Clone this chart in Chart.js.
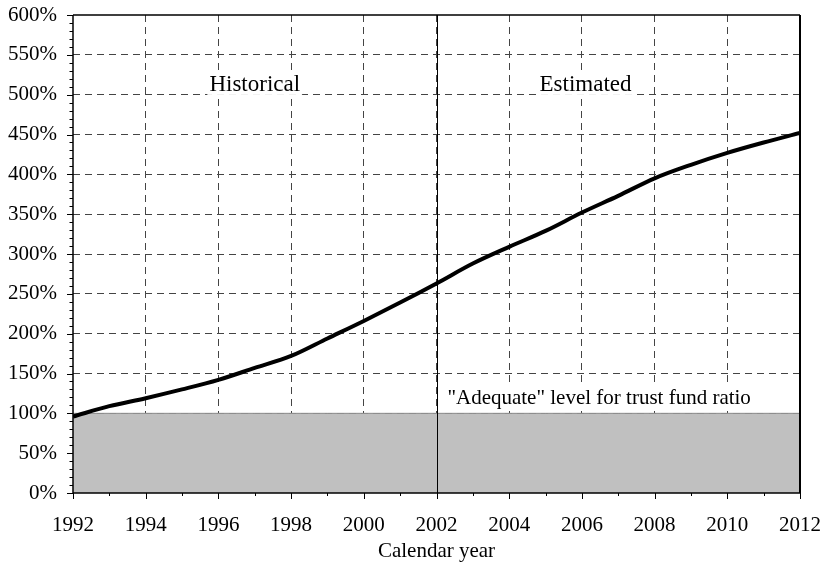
<!DOCTYPE html>
<html>
<head>
<meta charset="utf-8">
<script src="https://cdn.jsdelivr.net/npm/chart.js@4/dist/chart.umd.min.js"></script>
<style>
  html, body { margin: 0; padding: 0; background: #fff; }
  canvas { display: block; }
</style>
</head>
<body>
<canvas id="ratioChart" width="823" height="562"></canvas>
<script>
const years = [1992, 1993, 1994, 1995, 1996, 1997, 1998, 1999, 2000, 2001, 2002,
               2003, 2004, 2005, 2006, 2007, 2008, 2009, 2010, 2011, 2012];
const trustFundRatio = [96, 109, 119, 130, 142, 157, 172, 194, 216, 239, 263,
                        288, 309, 329, 352, 373, 395, 412, 427, 440, 452];
const adequateLevel = 100;
const splitYear = 2002;
const periodLabels = ['Historical', 'Estimated'];
const adequateLabel = '"Adequate" level for trust fund ratio';
const xTitle = 'Calendar year';

const serif = "'Liberation Serif', 'Times New Roman', serif";
const gridDash = [7, 5];

// borders, minor ticks, 2002 divider and text notes
const decorations = {
  id: 'decorations',
  afterDraw(chart) {
    const { ctx, chartArea: a, scales: { x, y } } = chart;
    ctx.save();
    ctx.strokeStyle = '#000';

    // tick marks
    ctx.lineWidth = 1;
    ctx.beginPath();
    for (let yr = x.min; yr <= x.max; yr++) {
      const px = Math.round(x.getPixelForValue(yr)) + 0.5;
      const len = yr % 2 === 0 ? 6 : 3;
      ctx.moveTo(px, a.bottom);
      ctx.lineTo(px, a.bottom + len);
    }
    for (let v = y.min; v <= y.max; v += 10) {
      const py = Math.round(y.getPixelForValue(v)) + 0.5;
      const len = v % 50 === 0 ? 6 : 3.5;
      ctx.moveTo(a.left, py);
      ctx.lineTo(a.left - len, py);
    }
    ctx.stroke();

    // divider between historical and estimated
    const sx = Math.round(x.getPixelForValue(splitYear)) + 0.5;
    ctx.beginPath();
    ctx.moveTo(sx, a.top);
    ctx.lineTo(sx, a.bottom);
    ctx.stroke();

    // frame
    ctx.lineWidth = 1.5;
    ctx.beginPath();
    ctx.moveTo(a.left, a.top);
    ctx.lineTo(a.right, a.top);
    ctx.moveTo(a.left, a.top);
    ctx.lineTo(a.left, a.bottom);
    ctx.moveTo(a.left, a.bottom);
    ctx.lineTo(a.right, a.bottom);
    ctx.stroke();
    ctx.lineWidth = 2;
    ctx.beginPath();
    ctx.moveTo(a.right, a.top);
    ctx.lineTo(a.right, a.bottom);
    ctx.stroke();

    // notes with white backing
    function note(text, xv, yv, size, align) {
      ctx.font = size + 'px ' + serif;
      const w = ctx.measureText(text).width;
      const px = x.getPixelForValue(xv);
      const py = y.getPixelForValue(yv);
      const left = align === 'center' ? px - w / 2 : px;
      ctx.fillStyle = '#fff';
      ctx.fillRect(left - 2, py - size * 0.8, w + 4, size * 0.95);
      ctx.fillStyle = '#000';
      ctx.textAlign = align;
      ctx.textBaseline = 'alphabetic';
      ctx.fillText(text, px, py);
    }
    note(periodLabels[0], 1997, 504, 23, 'center');
    note(periodLabels[1], 2006.1, 504, 23, 'center');
    note(adequateLabel, 2002.3, 112, 21, 'left');
    ctx.restore();
  }
};

window.addEventListener('load', function() {
  const ctx = document.getElementById('ratioChart');
  new Chart(ctx, {
    type: 'line',
    data: {
      datasets: [
        {
          label: 'Trust fund ratio',
          data: years.map((yr, i) => ({ x: yr, y: trustFundRatio[i] })),
          borderColor: '#000',
          borderWidth: 4,
          pointRadius: 0,
          cubicInterpolationMode: 'monotone',
          fill: false
        },
        {
          label: 'Adequate level',
          data: years.map(yr => ({ x: yr, y: adequateLevel })),
          borderColor: '#8a8a8a',
          borderWidth: 1,
          backgroundColor: '#c0c0c0',
          pointRadius: 0,
          fill: 'origin'
        }
      ]
    },
    options: {
      responsive: false,
      animation: false,
      layout: { padding: { top: 15, right: 23, left: 0, bottom: 0 } },
      scales: {
        x: {
          type: 'linear',
          min: 1992,
          max: 2012,
          z: 1,
          afterFit: s => {
            s.height = 69;
            s.paddingLeft = 0;
            s.paddingRight = 0;
          },
          ticks: {
            stepSize: 2,
            maxRotation: 0,
            autoSkip: false,
            padding: 20,
            color: '#000',
            font: { family: serif, size: 21 },
            callback: v => String(v)
          },
          grid: {
            drawTicks: false,
            lineWidth: 1,
            borderDash: gridDash,
            color: c => (c.tick && (c.tick.value === 1992 || c.tick.value === 2012)) ? 'rgba(0,0,0,0)' : '#444'
          },
          border: { display: false, dash: gridDash },
          title: {
            display: true,
            text: xTitle,
            color: '#000',
            font: { family: serif, size: 21, lineHeight: 1 },
            padding: { top: 0, bottom: 0 }
          }
        },
        y: {
          min: 0,
          max: 600,
          z: 1,
          afterFit: s => {
            s.width = 73;
            s.paddingTop = 0;
            s.paddingBottom = 0;
          },
          ticks: {
            stepSize: 50,
            padding: 16,
            color: '#000',
            font: { family: serif, size: 21 },
            callback: v => v + '%'
          },
          grid: {
            drawTicks: false,
            lineWidth: 1,
            borderDash: gridDash,
            color: c => (c.tick && (c.tick.value === 0 || c.tick.value === 600)) ? 'rgba(0,0,0,0)' : '#444'
          },
          border: { display: false, dash: gridDash }
        }
      },
      plugins: {
        legend: { display: false },
        tooltip: { enabled: false }
      }
    },
    plugins: [decorations]
  });
});
</script>
</body>
</html>
